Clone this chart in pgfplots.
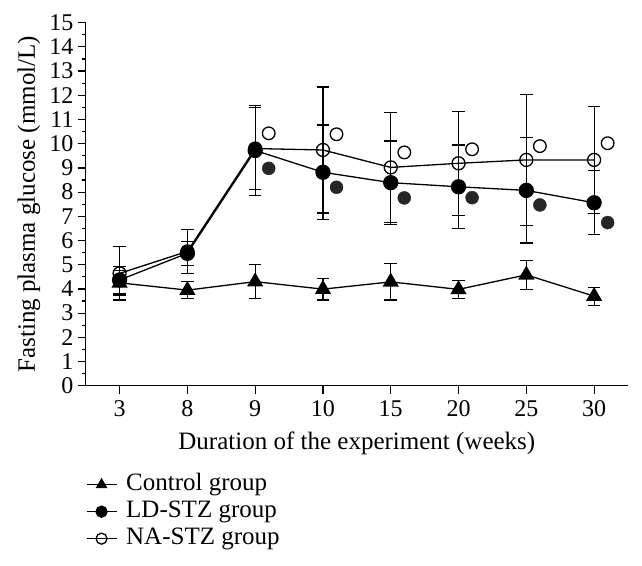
\documentclass[border=0pt]{standalone}
\usepackage{pgfplots}
\pgfplotsset{compat=1.18}
\usepackage{pgfplotstable}
\usepackage{fontspec}
\setmainfont{Liberation Serif}

\pgfplotstableread{
x y e
0 4.25 0.50
1 3.95 0.35
2 4.30 0.70
3 3.99 0.45
4 4.29 0.75
5 3.98 0.37
6 4.58 0.60
7 3.70 0.37
}\control
\pgfplotstableread{
x y e
0 4.37 0.55
1 5.47 0.50
2 9.72 1.85
3 8.82 1.95
4 8.39 1.72
5 8.22 1.73
6 8.07 2.17
7 7.56 1.32
}\ldstz
\pgfplotstableread{
x y e
0 4.64 1.10
1 5.55 0.90
2 9.80 1.70
3 9.74 2.60
4 9.02 2.26
5 9.19 2.15
6 9.33 2.71
7 9.33 2.22
}\nastz
\pgfplotstableread{
x y
2.2 10.43
3.2 10.39
4.2 9.64
5.2 9.77
6.2 9.90
7.2 10.02
}\naextra
\pgfplotstableread{
x y
2.2 8.98
3.2 8.20
4.2 7.76
5.2 7.77
6.2 7.47
7.2 6.74
}\ldextra

\begin{document}
\begin{tikzpicture}
\begin{axis}[
  at={(0,0)}, anchor=south west,
  scale only axis, width=542.3bp, height=363bp,
  xmin=-0.5, xmax=7.5, ymin=0, ymax=15,
  axis x line*=bottom, axis y line*=left,
  axis line style={line width=1.4bp, -},
  xtick={0,...,7}, xticklabels={3,8,9,10,15,20,25,30},
  ytick={0,...,15}, minor y tick num=1,
  tick align=outside, major tick length=8bp, minor tick length=4bp,
  tick style={line width=1.2bp, black},
  every tick label/.append style={font=\fontsize{24bp}{26bp}\selectfont},
  yticklabel style={inner xsep=4bp},
  xticklabel style={yshift=-3bp},
  /pgf/number format/assume math mode=true,
  xlabel={Duration of the experiment (weeks)},
  ylabel={Fasting plasma glucose (mmol/L)},
  label style={font=\fontsize{25bp}{27bp}\selectfont},
  xlabel style={at={([yshift=-64bp]axis description cs:0.5,0)}, anchor=base},
  ylabel style={at={([xshift=-50.7bp]axis description cs:0,0.5)}, anchor=base},
  legend style={at={([yshift=-86bp]axis description cs:0,0)}, anchor=north west,
    draw=none, fill=none, inner sep=0pt, row sep=1.5bp, column sep=9bp,
    nodes={inner xsep=0bp, inner ysep=1bp, text height=17.5bp, text depth=6bp},
    font=\fontsize{25bp}{26bp}\selectfont},
  legend cell align=left,
  legend image code/.code={\draw[mark repeat=2,mark phase=2,mark size=5.5bp]
    plot coordinates {(0bp,0bp)(15bp,0bp)(30bp,0bp)};},
  error bars/y dir=both, error bars/y explicit,
  error bars/error bar style={line width=1.2bp, black},
  error bars/error mark options={rotate=90, mark size=6.3bp, line width=1.2bp, black},
]
\addplot[black, line width=1.3bp, mark=triangle*, mark size=8bp]
  table[x=x, y=y, y error=e] {\control};
\addlegendentry{Control group}
\addplot[black, line width=1.3bp, mark=*, mark size=7bp]
  table[x=x, y=y, y error=e] {\ldstz};
\addlegendentry{LD-STZ group}
\addplot[black, line width=1.3bp, mark=o, mark size=6.5bp]
  table[x=x, y=y, y error=e] {\nastz};
\addlegendentry{NA-STZ group}
\addplot[only marks, black, line width=1.3bp, mark=o, mark size=6.3bp, forget plot,
  error bars/y dir=none] table[x=x, y=y] {\naextra};
\addplot[only marks, black!85, mark=*, mark size=6.5bp, forget plot,
  error bars/y dir=none] table[x=x, y=y] {\ldextra};
\end{axis}
\pgfresetboundingbox
\path (-85.7bp,-180.3bp) rectangle (556.3bp,385.7bp);
\end{tikzpicture}
\end{document}
